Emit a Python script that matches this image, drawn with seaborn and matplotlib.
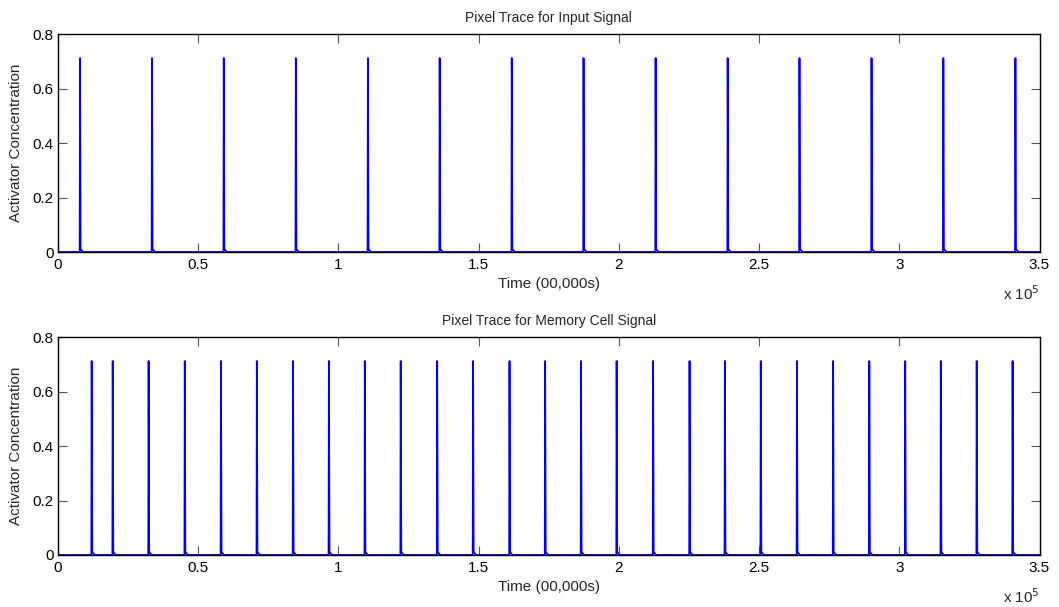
import numpy as np
import pandas as pd
import matplotlib
matplotlib.use("Agg")
import matplotlib.pyplot as plt
import seaborn as sns
from matplotlib.ticker import FuncFormatter

# ─── Data (times in seconds) ────────────────────────────────────────────────
input_spike_times = [7840, 33500, 59100, 84800, 110500, 136100, 161800,
                     187400, 213100, 238800, 264400, 290100, 315700, 341400]
memory_spike_times = [12000, 19500, 32300, 45200, 58100, 70900, 83800,
                      96600, 109400, 122200, 135200, 148000, 161000, 173700,
                      186500, 199200, 212200, 225200, 237800, 250600, 263500,
                      276400, 289300, 302100, 314800, 327600, 340400]
spike_peak = 0.712

# one spike as it looks in the trace: sharp rise, fast decay, small foot
spike_offsets = [-120, 0, 200, 600, 1100]
spike_levels = [0.0, 1.0, 0.016, 0.008, 0.0]

x_ticks = [0, 0.5e5, 1e5, 1.5e5, 2e5, 2.5e5, 3e5, 3.5e5]
y_ticks = [0, 0.2, 0.4, 0.6, 0.8]

titles = ["Pixel Trace for Input Signal", "Pixel Trace for Memory Cell Signal"]
x_label = "Time (00,000s)"
y_label = "Activator Concentration"


def build_trace(spike_times):
    """Turn a list of spike times into a time/value trace."""
    t = [0.0]
    v = [0.0]
    for st in spike_times:
        for off, lev in zip(spike_offsets, spike_levels):
            t.append(st + off)
            v.append(lev * spike_peak)
    t.append(x_ticks[-1])
    v.append(0.0)
    return pd.DataFrame({"time": t, "value": v})


sns.set_style("white")
plt.rcParams['font.family'] = ['Liberation Sans', 'DejaVu Sans']

fig = plt.figure(figsize=(10.59, 6.07), dpi=100)
ax_top = fig.add_axes([0.0548, 0.5848, 0.9268, 0.359])
ax_bot = fig.add_axes([0.0548, 0.0857, 0.9268, 0.359])

for ax, spikes, title in zip([ax_top, ax_bot],
                             [input_spike_times, memory_spike_times], titles):
    df = build_trace(spikes)
    sns.lineplot(data=df, x="time", y="value", ax=ax, color=(0, 0, 1),
                 linewidth=1.3, estimator=None, sort=False)

    ax.set_xlim(x_ticks[0], x_ticks[-1])
    ax.set_ylim(y_ticks[0], y_ticks[-1])
    ax.set_xticks(x_ticks)
    ax.set_yticks(y_ticks)
    ax.xaxis.set_major_formatter(FuncFormatter(lambda v, p: f"{v / 1e5:g}"))
    ax.yaxis.set_major_formatter(FuncFormatter(lambda v, p: f"{v:g}"))

    ax.tick_params(axis="both", which="both", direction="in",
                   top=True, right=True, bottom=True, left=True,
                   length=6.5, width=0.8, color="#555555",
                   labelsize=11, labelcolor="black")
    ax.tick_params(axis="x", pad=4)
    ax.tick_params(axis="y", pad=3)

    for sp in ax.spines.values():
        sp.set_visible(True)
        sp.set_color("black")
        sp.set_linewidth(1.0)

    ax.set_title(title, fontsize=10, pad=9)
    ax.set_xlabel(x_label, fontsize=11)
    ax.set_ylabel(y_label, fontsize=11)
    ax.xaxis.set_label_coords(0.5, -0.115)
    ax.yaxis.set_label_coords(-0.036, 0.5)

    ax.text(1.0, -0.19, r"x 10$^{5}$", transform=ax.transAxes,
            ha="right", va="center", fontsize=11)

fig.savefig("out.png", dpi=100)
plt.close(fig)
